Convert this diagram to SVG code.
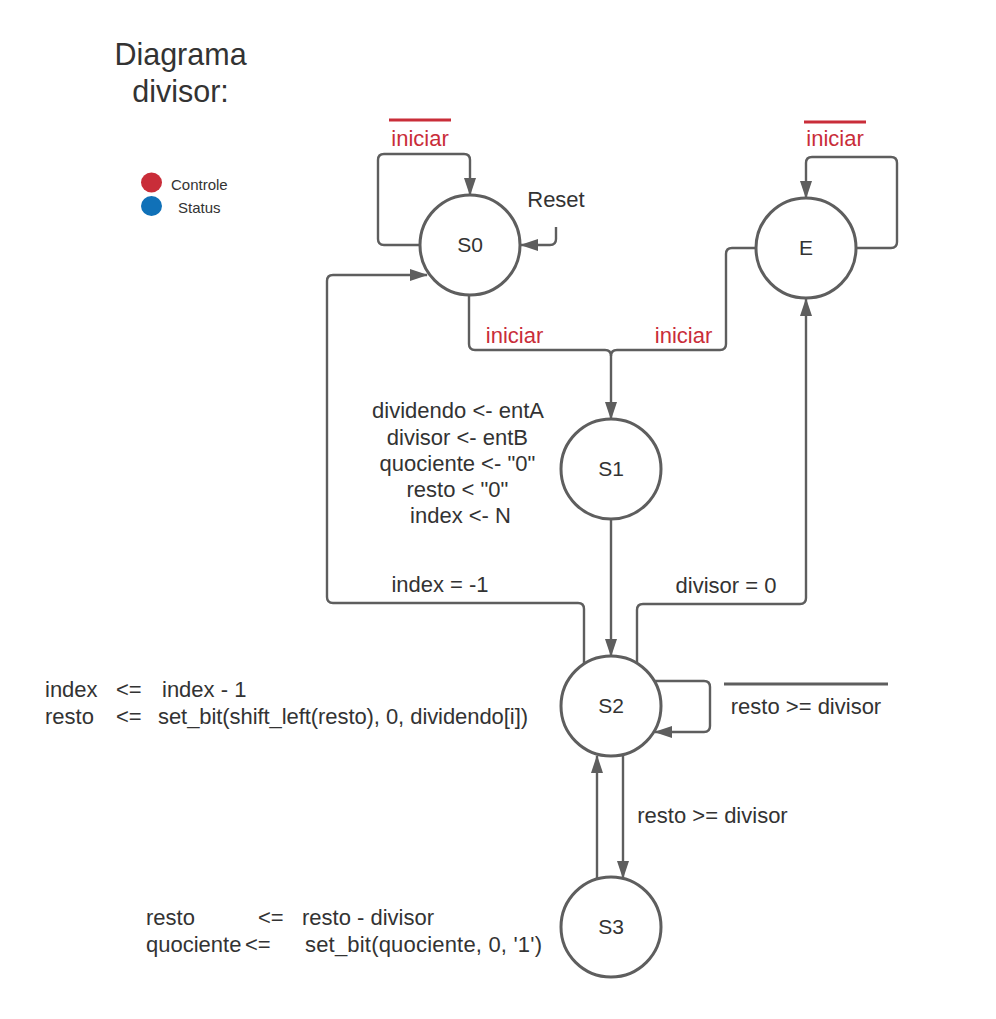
<svg xmlns="http://www.w3.org/2000/svg" width="996" height="1019" viewBox="0 0 996 1019">
<style>
text{font-family:"Liberation Sans",Arial,sans-serif;fill:#333333;}
.t{font-size:22px;}
.red{fill:#C92D39;}
.node circle{fill:#ffffff;stroke:#5E5E5E;stroke-width:3;}
.node text{font-size:21px;text-anchor:middle;}
.c path{fill:none;stroke:#5E5E5E;stroke-width:2.4;marker-end:url(#ah);}
.c path.nm{marker-end:none;}
</style>
<defs>
<marker id="ah" markerUnits="userSpaceOnUse" markerWidth="18" markerHeight="12" refX="17" refY="6" orient="auto">
<path d="M0,0 L18,6 L0,12 z" fill="#5E5E5E"/>
</marker>
</defs>
<rect width="996" height="1019" fill="#ffffff"/>
<g id="title">
<text x="180.5" y="65" font-size="30.5" text-anchor="middle">Diagrama</text>
<text x="180.5" y="102" font-size="30.5" text-anchor="middle">divisor:</text>
</g>
<g id="legend">
<ellipse cx="151.5" cy="182.5" rx="10.5" ry="10" fill="#C92D39"/>
<ellipse cx="151.5" cy="206" rx="10.5" ry="10" fill="#1071B8"/>
<text x="171" y="190" font-size="15">Controle</text>
<text x="178" y="213" font-size="15">Status</text>
</g>
<g class="c" id="connectors">
<path d="M420,245 H384 Q378,245 378,239 V160 Q378,154 384,154 H464 Q470,154 470,160 V195"/>
<path d="M556,227 V239 Q556,245 550,245 H521"/>
<path d="M469,296 V344 Q469,350 475,350 H605 Q611,350 611,356 V419"/>
<path class="nm" d="M756,248 H732 Q726,248 726,254 V344 Q726,350 720,350 H617 Q611,350 611,356"/>
<path d="M857,248 H891 Q897,248 897,242 V163 Q897,157 891,157 H812 Q806,157 806,163 V198"/>
<path d="M611,520 V656"/>
<path d="M584,664 V609 Q584,603 578,603 H333 Q327,603 327,597 V281 Q327,275 333,275 H427"/>
<path d="M637,663 V610 Q637,604 643,604 H800 Q806,604 806,598 V299"/>
<path d="M654,681 H704 Q710,681 710,687 V726 Q710,732 704,732 H655"/>
<path d="M623,755 V878"/>
<path d="M597,879 V756"/>
</g>
<g id="S0" class="node"><circle cx="470" cy="245" r="50"/><text x="470" y="252">S0</text></g>
<g id="E" class="node"><circle cx="806" cy="248" r="50"/><text x="806" y="255">E</text></g>
<g id="S1" class="node"><circle cx="611" cy="469" r="50"/><text x="611" y="476">S1</text></g>
<g id="S2" class="node"><circle cx="611" cy="706" r="50"/><text x="611" y="713">S2</text></g>
<g id="S3" class="node"><circle cx="611" cy="927" r="50"/><text x="611" y="934">S3</text></g>
<g id="labels">
<line x1="389" y1="120" x2="451" y2="120" stroke="#C92D39" stroke-width="3"/>
<text class="t red" x="420" y="146" text-anchor="middle">iniciar</text>
<line x1="804" y1="122" x2="866" y2="122" stroke="#C92D39" stroke-width="3"/>
<text class="t red" x="835" y="146" text-anchor="middle">iniciar</text>
<text class="t" x="556" y="207" text-anchor="middle">Reset</text>
<text class="t red" x="514.5" y="343" text-anchor="middle">iniciar</text>
<text class="t red" x="683.5" y="343" text-anchor="middle">iniciar</text>
<text class="t" text-anchor="middle">
<tspan x="460.5" y="418">dividendo &lt;- entA</tspan>
<tspan x="460.5" y="445">divisor &lt;- entB</tspan>
<tspan x="460.5" y="471">quociente &lt;- "0"</tspan>
<tspan x="460.5" y="497">resto &lt; "0"</tspan>
<tspan x="460.5" y="523">index &lt;- N</tspan>
</text>
<text class="t" x="440" y="592" text-anchor="middle">index = -1</text>
<text class="t" x="726" y="593" text-anchor="middle">divisor = 0</text>
<line x1="724" y1="684" x2="888" y2="684" stroke="#5E5E5E" stroke-width="3"/>
<text class="t" x="806" y="714" text-anchor="middle">resto &gt;= divisor</text>
<text class="t" x="712.5" y="823" text-anchor="middle">resto &gt;= divisor</text>
<text class="t"><tspan x="45" y="697">index</tspan><tspan x="116">&lt;=</tspan><tspan x="162">index - 1</tspan></text>
<text class="t"><tspan x="45" y="724">resto</tspan><tspan x="116">&lt;=</tspan><tspan x="158" textLength="370" lengthAdjust="spacing">set_bit(shift_left(resto), 0, dividendo[i])</tspan></text>
<text class="t"><tspan x="146" y="925">resto</tspan><tspan x="258">&lt;=</tspan><tspan x="302">resto - divisor</tspan></text>
<text class="t"><tspan x="146" y="952">quociente</tspan><tspan x="245">&lt;=</tspan><tspan x="305" textLength="237" lengthAdjust="spacing">set_bit(quociente, 0, '1')</tspan></text>
</g>
</svg>
